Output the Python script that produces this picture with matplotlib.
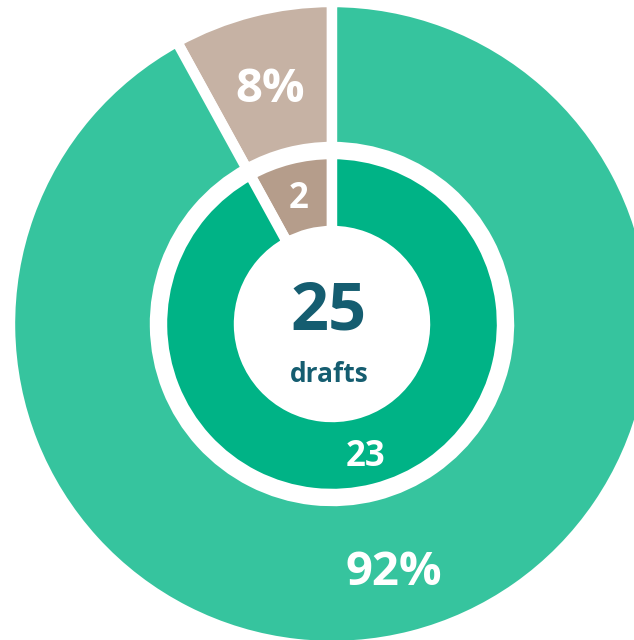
import numpy as np
import matplotlib.pyplot as plt

# data
inner_counts = [2, 23]
outer_labels = ['8%', '92%']
inner_labels = ['2', '23']
total_label = '25'
unit_label = 'drafts'

outer_colors = ['#c6b2a4', '#36c49e']
inner_colors = ['#b59d8b', '#00b386']
text_dark = '#155d70'

fig = plt.figure(figsize=(6.34, 6.40), dpi=100)
ax = fig.add_axes([0, 0, 1, 1])

# radii in pixels (1 data unit = 1 px)
r_out, w_out = 322, 145
r_in, w_in = 170, 77
edge = dict(edgecolor='white', linewidth=7.5)

fracs = np.array(inner_counts) / sum(inner_counts)
ax.pie(fracs, radius=r_out, startangle=90, counterclock=True, colors=outer_colors,
       wedgeprops=dict(width=w_out, **edge))
ax.pie(inner_counts, radius=r_in, startangle=90, counterclock=True, colors=inner_colors,
       wedgeprops=dict(width=w_in, **edge))

# labels at the middle of each wedge
angles = 90 + 360 * (np.cumsum(fracs) - fracs / 2)
for ang, lab in zip(angles, outer_labels):
    rr = r_out - w_out / 2
    a = np.deg2rad(ang)
    ax.text(rr * np.cos(a), rr * np.sin(a) - 7, lab, ha='center', va='center',
            color='white', fontsize=34, fontweight='bold', family='Open Sans')
for ang, lab in zip(angles, inner_labels):
    rr = r_in - w_in / 2 + 2
    a = np.deg2rad(ang)
    ax.text(rr * np.cos(a), rr * np.sin(a) - 4, lab, ha='center', va='center',
            color='white', fontsize=25, fontweight='bold', family='Open Sans')

ax.text(-3, 12, total_label, ha='center', va='center', color=text_dark,
        fontsize=48, fontweight='bold', family='Open Sans')
ax.text(-3, -50, unit_label, ha='center', va='center', color=text_dark,
        fontsize=19, fontweight='bold', family='Open Sans')

cx, cy = 332, 324
ax.set_xlim(-cx, 634 - cx)
ax.set_ylim(-(640 - cy), cy)
ax.set_aspect('equal')
ax.axis('off')

fig.savefig('out.png', dpi=100)
